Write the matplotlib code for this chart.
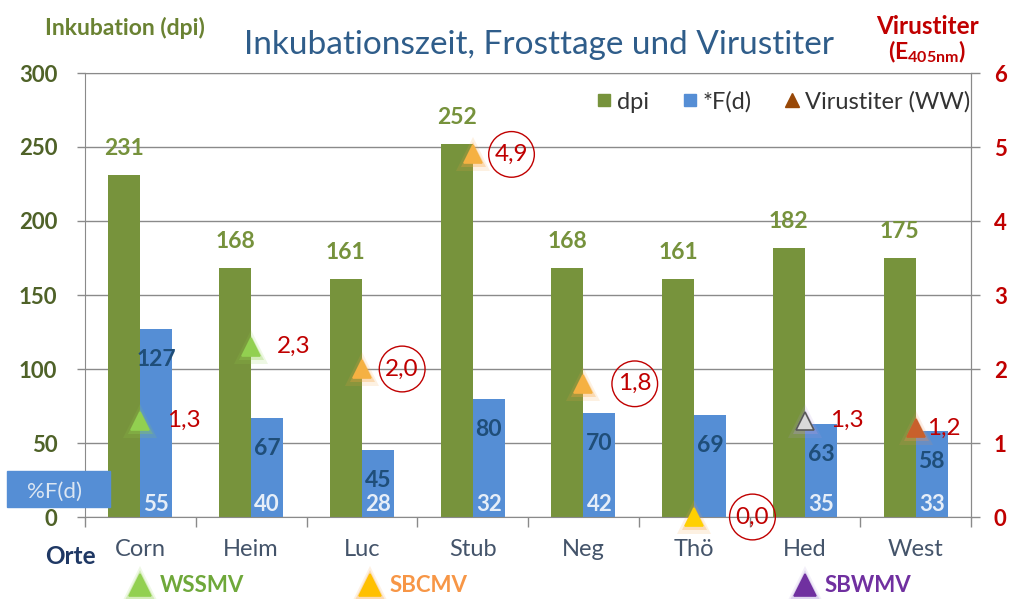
import matplotlib
matplotlib.use("Agg")
import numpy as np
import matplotlib.pyplot as plt
from matplotlib.lines import Line2D
from matplotlib.patches import Rectangle

plt.rcParams['font.family'] = ['Lato', 'DejaVu Sans']
plt.rcParams['mathtext.fontset'] = 'custom'
plt.rcParams['mathtext.rm'] = 'Lato'
plt.rcParams['mathtext.bf'] = 'Lato:bold'

# data
orte = ["Corn", "Heim", "Luc", "Stub", "Neg", "Thö", "Hed", "West"]
dpi_vals = [231, 168, 161, 252, 168, 161, 182, 175]
fd_vals = [127, 67, 45, 80, 70, 69, 63, 58]
fd_pct = [55, 40, 28, 32, 42, None, 35, 33]
titer = [1.3, 2.3, 2.0, 4.9, 1.8, 0.0, 1.3, 1.2]
circled = [False, False, True, True, True, True, False, False]
virus_names = ["WSSMV", "SBCMV", "SBWMV"]

# style
W, H = 1009, 599
GREEN = '#77933C'
BLUE = '#558ED5'
RED = '#C00000'
GRID = '#8a8a8a'
tri_fill = ['#92D050', '#92D050', '#F5B142', '#F5B142', '#F5B142', '#FFD000', '#D9D9D9', '#C8602C']
tri_edge = ['#92D050', '#92D050', '#F5B142', '#F5B142', '#F5B142', '#FFD000', '#595959', '#C8602C']
tri_glow = ['#92D050', '#92D050', '#F7A540', '#F7A540', '#F7A540', '#F7A540', '#B09AD8', '#E8915A']
lbl_dx = [31, 31, 29, 28, 37, 42, 30, 20]


def glow_tri(target, xx, yy, fill, edge, glow, ms, transform=None):
    kw = dict(marker='^', ls='', clip_on=False)
    if transform is not None:
        kw['transform'] = transform
    lines = []
    for size, a in [(ms + 11, 0.15), (ms + 5, 0.3)]:
        lines.append(Line2D([xx], [yy], ms=size, color=glow, alpha=a, mew=0, **kw))
    lines.append(Line2D([xx], [yy], ms=ms, mfc=fill, mec=edge, mew=1.2, **kw))
    for ln in lines:
        if transform is not None:
            target.add_artist(ln)
        else:
            target.add_line(ln)


fig = plt.figure(figsize=(W / 100, H / 100), dpi=100)
ax = fig.add_axes([85 / W, 82 / H, 886 / W, 444 / H])
ax2 = ax.twinx()

x = np.arange(len(orte))
ax.bar(x - 0.145, dpi_vals, 0.29, color=GREEN, zorder=2)
ax.bar(x + 0.145, fd_vals, 0.29, color=BLUE, zorder=2)

ax.set_xlim(-0.5, 7.5)
ax.set_ylim(0, 300)
ax.set_yticks(np.arange(0, 301, 50))
ax.yaxis.grid(True, color=GRID, lw=1)
ax.set_axisbelow(True)
ax.tick_params(axis='y', direction='out', length=6, width=1, color=GRID,
               pad=14, labelsize=16, labelcolor='#4F6228')
for lab in ax.get_yticklabels():
    lab.set_fontweight('bold')
ax.set_xticks(x)
ax.set_xticklabels(orte)
ax.tick_params(axis='x', which='major', length=0, pad=16, labelsize=17, labelcolor='#44546A')
ax.set_xticks(np.arange(-0.5, 8, 1), minor=True)
ax.tick_params(axis='x', which='minor', direction='out', length=7, width=1, color=GRID)
for s in ax.spines.values():
    s.set_color(GRID)

ax2.set_ylim(0, 6)
ax2.set_yticks(range(0, 7))
ax2.tick_params(axis='y', direction='out', length=6.5, width=1, color=GRID,
                pad=10, labelsize=16, labelcolor=RED)
for lab in ax2.get_yticklabels():
    lab.set_fontweight('bold')
for k in ['top', 'left', 'bottom']:
    ax2.spines[k].set_visible(False)
ax2.spines['right'].set_color(GRID)

# value labels
for i in range(len(orte)):
    ax.annotate(str(dpi_vals[i]), (i - 0.145, dpi_vals[i]), xytext=(0, 19),
                textcoords='offset points', ha='center', va='center',
                color='#76923C', fontsize=16.5, fontweight='bold', zorder=4)
    ax.annotate(str(fd_vals[i]), (i + 0.145, fd_vals[i]), xytext=(0, -22),
                textcoords='offset points', ha='center', va='center',
                color='#1F4E79', fontsize=16.5, fontweight='bold', zorder=4)
    if fd_pct[i] is not None:
        ax.annotate(str(fd_pct[i]), (i + 0.145, 0), xytext=(0, 9),
                    textcoords='offset points', ha='center', va='center',
                    color='#E6EEF8', fontsize=16, fontweight='bold', zorder=4)

# virus titer triangles
for i, t in enumerate(titer):
    glow_tri(ax2, i, t, tri_fill[i], tri_edge[i], tri_glow[i], 13)
    bbox = None
    if circled[i]:
        bbox = dict(boxstyle='circle,pad=0.25', fc='none', ec=RED, lw=1)
    ax2.annotate(f"{t:.1f}".replace('.', ','), (i, t), xytext=(lbl_dx[i], 0),
                 textcoords='offset points', ha='center', va='center',
                 color=RED, fontsize=17.5, bbox=bbox, annotation_clip=False)

# legend
handles = [
    Line2D([], [], marker='s', ls='', color=GREEN, ms=9, label='dpi'),
    Line2D([], [], marker='s', ls='', color=BLUE, ms=9, label='*F(d)'),
    Line2D([], [], marker='^', ls='', color='#984807', ms=10, label='Virustiter (WW)'),
]
fig.legend(handles=handles, loc='center right', bbox_to_anchor=(970 / W, 1 - 102 / H),
           ncol=3, frameon=False, fontsize=17, handlelength=0.6, handletextpad=0.25,
           columnspacing=1.4, borderpad=0, borderaxespad=0, labelcolor='#333333')

# titles and axis captions
fig.text(539 / W, 1 - 45 / H, 'Inkubationszeit, Frosttage und Virustiter',
         fontsize=24, color='#2F5D8A', ha='center', va='center')
fig.text(125 / W, 1 - 28 / H, 'Inkubation (dpi)', fontsize=16.5, fontweight='bold',
         color='#6A8232', ha='center', va='center')
fig.text(928 / W, 1 - 26 / H, 'Virustiter', fontsize=17.5, fontweight='bold',
         color=RED, ha='center', va='center')
fig.text(927 / W, 1 - 52 / H, r'$\mathbf{(E_{405nm})}$', fontsize=16.5,
         color=RED, ha='center', va='center')

# %F(d) box
fig.add_artist(Rectangle((7 / W, 1 - 507 / H), 103 / W, 36 / H,
                         transform=fig.transFigure, color=BLUE, zorder=5))
fig.text(54 / W, 1 - 492 / H, '%F(d)', fontsize=16, color='#DCE6F2',
         ha='center', va='center', zorder=6)
fig.text(70 / W, 1 - 557 / H, 'Orte', fontsize=17.5, fontweight='bold',
         color='#1F3864', ha='center', va='center')

# bottom virus legend
leg_x = [140, 370, 805]
leg_tri = ['#92D050', '#FFC000', '#7030A0']
leg_glow = ['#92D050', '#F7A540', '#B09AD8']
leg_txt = ['#6FA83A', '#F79646', '#7030A0']
for name, px, tc, gc, txc in zip(virus_names, leg_x, leg_tri, leg_glow, leg_txt):
    glow_tri(fig, px / W, 1 - 585 / H, tc, tc, gc, 16, transform=fig.transFigure)
    fig.text((px + 20) / W, 1 - 585 / H, name, fontsize=16, fontweight='bold',
             color=txc, ha='left', va='center')

fig.savefig('out.png', dpi=100)
